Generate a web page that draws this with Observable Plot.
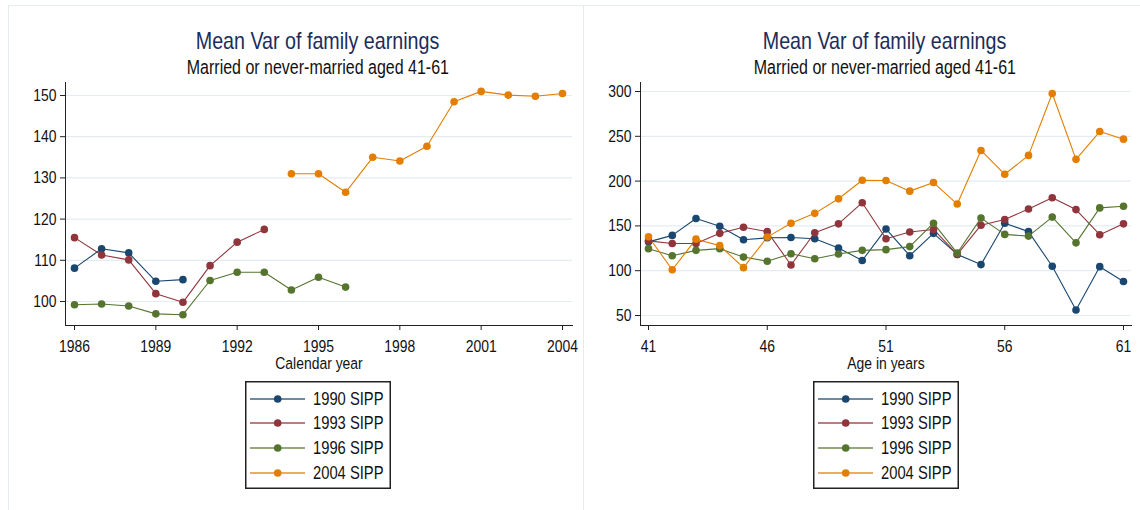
<!DOCTYPE html>
<html>
<head>
<meta charset="utf-8">
<script src="https://cdn.jsdelivr.net/npm/d3@7"></script>
<script src="https://cdn.jsdelivr.net/npm/@observablehq/plot@0.6"></script>
<style>
  html, body { margin: 0; padding: 0; background: #fff; }
  #wrap { position: relative; width: 1140px; height: 510px; overflow: hidden; background: #fff;
          font-family: "Liberation Sans", Arial, sans-serif; }
  .pframe { position: absolute; border-top: 1px solid #e4ecf0; border-left: 1px solid #e4ecf0; }
  .title, .subtitle { position: absolute; text-align: center; white-space: nowrap; }
  .title span, .subtitle span { display: inline-block; transform: scaleX(0.82); transform-origin: 50% 50%; }
  .title { color: #1c2d5a; font-size: 24px; line-height: 24px; }
  .subtitle { color: #111; font-size: 19.5px; line-height: 20px; }
  .plotbox { position: absolute; }
</style>
</head>
<body>
<div id="wrap"></div>
<script>
// ---------- data ----------
const seriesNames = ["1990 SIPP", "1993 SIPP", "1996 SIPP", "2004 SIPP"];
const seriesColors = ["#1a476f", "#90353b", "#55752f", "#e37e00"];

// Left panel: by calendar year
const years1990 = [1986, 1987, 1988, 1989, 1990];
const vals1990Year = [108.1, 112.8, 111.8, 104.9, 105.3];
const years1993 = [1986, 1987, 1988, 1989, 1990, 1991, 1992, 1993];
const vals1993Year = [115.5, 111.3, 110.1, 101.9, 99.8, 108.7, 114.4, 117.5];
const years1996 = [1986, 1987, 1988, 1989, 1990, 1991, 1992, 1993, 1994, 1995, 1996];
const vals1996Year = [99.2, 99.4, 98.9, 97.0, 96.8, 105.1, 107.1, 107.1, 102.8, 105.9, 103.5];
const years2004 = [1994, 1995, 1996, 1997, 1998, 1999, 2000, 2001, 2002, 2003, 2004];
const vals2004Year = [131.0, 131.0, 126.5, 135.0, 134.1, 137.7, 148.5, 151.0, 150.1, 149.8, 150.5];

const yearTicks = [1986, 1989, 1992, 1995, 1998, 2001, 2004];
const yearValueTicks = [100, 110, 120, 130, 140, 150];

// Right panel: by age
const ages = [41, 42, 43, 44, 45, 46, 47, 48, 49, 50, 51, 52, 53, 54, 55, 56, 57, 58, 59, 60, 61];
const vals1990Age = [132.2, 139.4, 158.3, 149.6, 134.5, 136.7, 137.1, 135.6, 125.4, 111.4, 146.6, 116.7, 141.7, 118.2, 106.8, 153.0, 143.6, 104.9, 56.1, 104.5, 87.9];
const vals1993Age = [133.3, 130.3, 130.3, 141.7, 148.5, 143.6, 106.4, 142.4, 152.3, 175.9, 135.6, 143.2, 146.0, 118.2, 150.8, 157.2, 168.9, 181.4, 168.2, 140.2, 152.3];
const vals1996Age = [124.6, 116.7, 122.7, 124.6, 115.2, 110.6, 118.9, 113.3, 118.6, 122.7, 123.5, 126.9, 153.0, 119.7, 158.7, 140.5, 138.6, 159.8, 131.1, 170.1, 172.0];
const vals2004Age = [137.9, 101.1, 135.2, 128.0, 103.4, 137.5, 153.0, 164.0, 180.3, 201.0, 200.6, 188.8, 198.4, 174.4, 234.2, 207.6, 228.7, 297.8, 224.3, 255.3, 246.8];

const ageTicks = [41, 46, 51, 56, 61];
const ageValueTicks = [50, 100, 150, 200, 250, 300];

const titleText = "Mean Var of family earnings";
const subtitleText = "Married or never-married aged 41-61";

// ---------- build tables ----------
function rows(name, xs, ys) { return xs.map((x, i) => ({series: name, x, y: ys[i]})); }
const yearData = [
  ...rows(seriesNames[0], years1990, vals1990Year),
  ...rows(seriesNames[1], years1993, vals1993Year),
  ...rows(seriesNames[2], years1996, vals1996Year),
  ...rows(seriesNames[3], years2004, vals2004Year)
];
const ageData = [
  ...rows(seriesNames[0], ages, vals1990Age),
  ...rows(seriesNames[1], ages, vals1993Age),
  ...rows(seriesNames[2], ages, vals1996Age),
  ...rows(seriesNames[3], ages, vals2004Age)
];

const FONT = '"Liberation Sans", Arial, sans-serif';
const NARROW = 0.82;
const wrap = document.getElementById("wrap");

function addDiv(cls, text, style) {
  const d = document.createElement("div");
  d.className = cls;
  if (text) { const s = document.createElement("span"); s.textContent = text; d.appendChild(s); }
  Object.assign(d.style, style);
  wrap.appendChild(d);
  return d;
}

// make SVG text narrow (condensed look) around each text's anchor point
function condense(svgNode) {
  d3.select(svgNode).selectAll("text").each(function () {
    const t = this.getAttribute("transform") || "";
    this.setAttribute("transform", (t + ` scale(${NARROW},1)`).trim());
  });
}

function makePlot(o) {
  const svg = Plot.plot({
    width: o.width, height: 300,
    marginTop: 7, marginBottom: 50, marginLeft: 65, marginRight: o.marginRight,
    x: {domain: o.xDomain, insetLeft: o.insetLeft, insetRight: o.insetRight},
    y: {domain: o.yDomain, insetTop: o.insetTop, insetBottom: o.insetBottom},
    color: {domain: seriesNames, range: seriesColors},
    style: {fontFamily: FONT, fontSize: "17px", background: "transparent", color: "#111", overflow: "visible"},
    marks: [
      Plot.gridY(o.yTicks, {stroke: "#e3edf1", strokeOpacity: 1, strokeWidth: 1.2}),
      Plot.axisY(o.yTicks, {tickSize: 5, tickPadding: 4, label: null, stroke: "#222"}),
      Plot.axisX(o.xTicks, {tickSize: 5, tickPadding: 9, tickFormat: "d", label: o.xLabel, fontSize: 17,
                            labelAnchor: "center", labelOffset: 43, labelArrow: "none", stroke: "#222"}),
      Plot.frame({anchor: "left", stroke: "#222"}),
      Plot.frame({anchor: "bottom", stroke: "#222"}),
      Plot.line(o.data, {x: "x", y: "y", z: "series", stroke: "series", strokeWidth: 1.1}),
      Plot.dot(o.data, {x: "x", y: "y", fill: "series", r: 3.8})
    ]
  });
  condense(svg);
  return svg;
}

function makeLegend(left, top) {
  const w = 146, h = 108;
  const svg = d3.create("svg").attr("width", w).attr("height", h)
    .style("position", "absolute").style("left", left + "px").style("top", top + "px");
  svg.append("rect").attr("x", 0.75).attr("y", 0.75).attr("width", w - 1.5).attr("height", h - 1.5)
    .attr("fill", "#fff").attr("stroke", "#222").attr("stroke-width", 1.5);
  const rowY = [18, 42, 67, 92];
  seriesNames.forEach((name, i) => {
    const g = svg.append("g").attr("transform", `translate(0,${rowY[i]})`);
    g.append("line").attr("x1", 5).attr("x2", 60).attr("y1", 0).attr("y2", 0)
      .attr("stroke", seriesColors[i]).attr("stroke-width", 1.6).attr("stroke-opacity", 0.85);
    g.append("circle").attr("cx", 32.7).attr("cy", 0).attr("r", 3.8).attr("fill", seriesColors[i]);
    g.append("text").attr("transform", `translate(68,6) scale(${NARROW},1)`)
      .attr("font-family", FONT).attr("font-size", 18)
      .attr("fill", "#111").text(name);
  });
  wrap.appendChild(svg.node());
}

// panel frames
addDiv("pframe", null, {left: "8px", top: "5px", width: "1200px", height: "600px"});
addDiv("pframe", null, {left: "583px", top: "5px", width: "800px", height: "600px"});

// ---- left panel ----
addDiv("title", titleText, {left: "118px", width: "400px", top: "29px"});
addDiv("subtitle", subtitleText, {left: "118px", width: "400px", top: "57px"});
const left = addDiv("plotbox", null, {left: "0px", top: "75px"});
left.appendChild(makePlot({
  width: 580, marginRight: 8, data: yearData,
  xDomain: [1986, 2004], insetLeft: 9, insetRight: 10,
  yDomain: [100, 150], insetTop: 13, insetBottom: 24,
  xTicks: yearTicks, yTicks: yearValueTicks, xLabel: "Calendar year"
}));
makeLegend(245, 381);

// ---- right panel ----
addDiv("title", titleText, {left: "685px", width: "400px", top: "29px"});
addDiv("subtitle", subtitleText, {left: "685px", width: "400px", top: "57px"});
const right = addDiv("plotbox", null, {left: "575px", top: "75px"});
right.appendChild(makePlot({
  width: 565, marginRight: 9, data: ageData,
  xDomain: [41, 61], insetLeft: 8, insetRight: 8,
  yDomain: [50, 300], insetTop: 9, insetBottom: 10,
  xTicks: ageTicks, yTicks: ageValueTicks, xLabel: "Age in years"
}));
makeLegend(813, 381);
</script>
</body>
</html>
